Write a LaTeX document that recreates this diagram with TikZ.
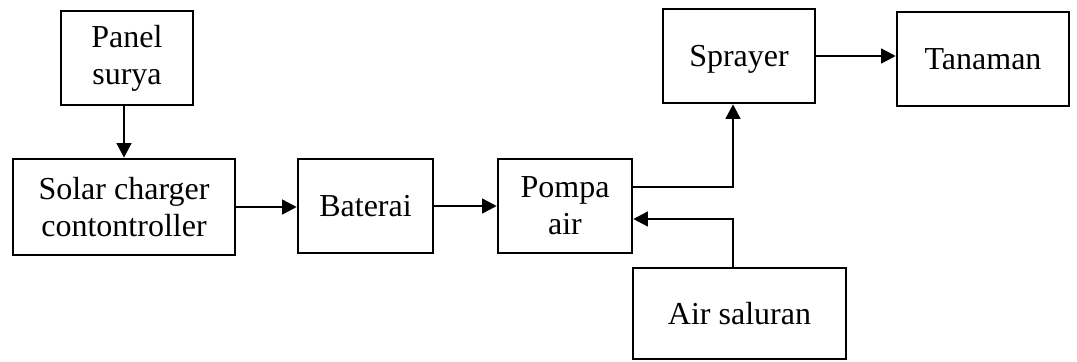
\documentclass[tikz,border=0pt]{standalone}
\usepackage{fontspec}
\setmainfont{Liberation Serif}
\usetikzlibrary{arrows.meta}
\begin{document}
\begin{tikzpicture}[x=0.75pt,y=-0.75pt,
  blk/.style={draw,line width=1.9pt,rectangle,inner sep=0pt,align=center,
    font=\fontsize{24}{27.75}\selectfont},
  conn/.style={line width=1.9pt,-{Triangle[length=11pt,width=11pt]}}]
\useasboundingbox (0,0) rectangle (1077,361);
\node[blk,minimum width=132*0.75pt,minimum height=94*0.75pt] (panel) at (127,58) {Panel\\surya};
\node[blk,minimum width=222*0.75pt,minimum height=96*0.75pt] (solar) at (124,207) {Solar charger\\contontroller};
\node[blk,minimum width=135*0.75pt,minimum height=94*0.75pt] (bat) at (365.5,206) {Baterai};
\node[blk,minimum width=134*0.75pt,minimum height=94*0.75pt] (pompa) at (565,206) {Pompa\\air};
\node[blk,text depth=0pt,minimum width=152*0.75pt,minimum height=94*0.75pt] (spray) at (739,56) {Sprayer};
\node[blk,minimum width=172*0.75pt,minimum height=94*0.75pt] (tan) at (983,59) {Tanaman};
\node[blk,minimum width=213*0.75pt,minimum height=91*0.75pt] (air) at (739.5,313.5) {Air saluran};
\coordinate (j1) at (733,187);
\coordinate (j2) at (733,219);
\draw[conn] (panel.south -| solar.north) -- (solar.north);
\draw[conn] (solar.east) -- (solar.east -| bat.west);
\draw[conn] (bat.east) -- (pompa.west);
\draw[conn] (pompa.east |- j1) -- (j1) -- (j1 |- spray.south);
\draw[conn] (spray.east) -- (spray.east -| tan.west);
\draw[conn] (air.north -| j2) -- (j2) -- (pompa.east |- j2);
\end{tikzpicture}
\end{document}
